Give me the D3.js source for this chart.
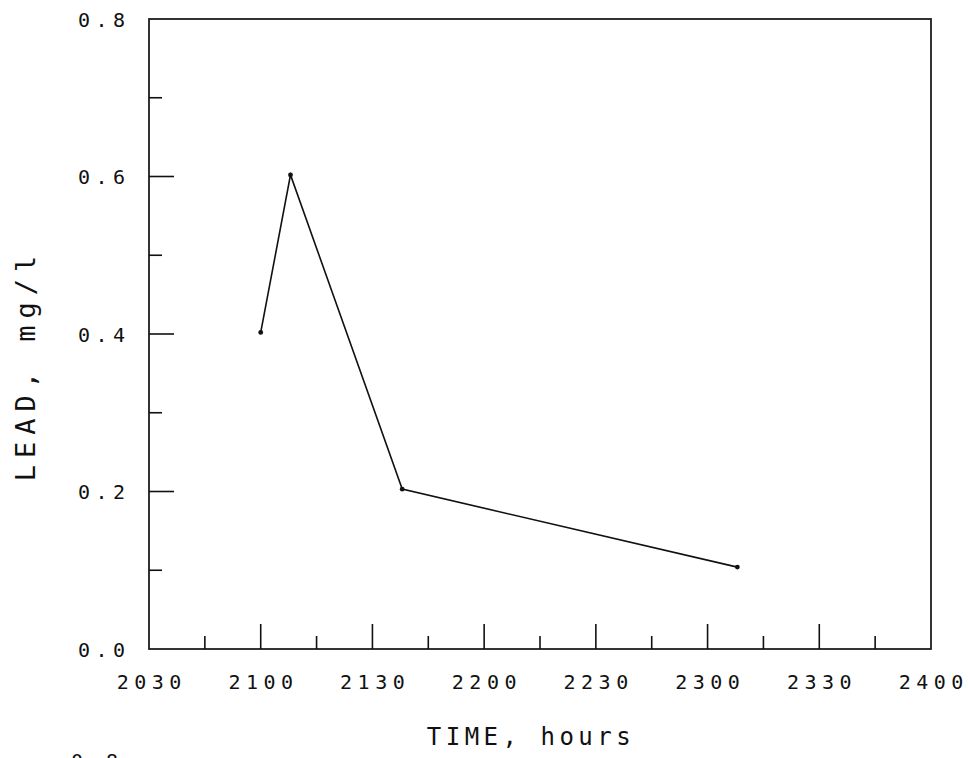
<!DOCTYPE html>
<html>
<head>
<meta charset="utf-8">
<script src="https://cdn.jsdelivr.net/npm/d3@7"></script>
<style>
  html, body { margin: 0; padding: 0; background: #fff; }
  svg { display: block; }
  text { font-family: "DejaVu Sans Mono", "Liberation Mono", monospace; fill: #111; }
</style>
</head>
<body>
<svg id="chart" width="970" height="758"></svg>
<script>
// ---- data ----
const times = ["2100", "2108", "2138", "2308"];        // clock time, HHMM
const lead = [0.402, 0.602, 0.203, 0.104];            // LEAD, mg/l
const xTickLabels = ["2030", "2100", "2130", "2200", "2230", "2300", "2330", "2400"];
const yTickLabels = ["0.0", "0.2", "0.4", "0.6", "0.8"];
const xTitle = "TIME, hours";
const yTitle = "LEAD, mg/l";

// ---- helpers ----
const toMin = s => +s.slice(0, 2) * 60 + +s.slice(2);
const points = times.map((t, i) => ({ x: toMin(t), y: lead[i] }));

const svg = d3.select("#chart");
const L = 149, R = 931, T = 19, B = 649;

const x = d3.scaleLinear().domain([toMin("2030"), toMin("2400")]).range([L, R]);
const y = d3.scaleLinear().domain([0, 0.8]).range([B, T]);

// frame
svg.append("rect")
  .attr("x", L).attr("y", T).attr("width", R - L).attr("height", B - T)
  .attr("fill", "none").attr("stroke", "#111").attr("stroke-width", 1.7);

// x ticks (inward, every 15 minutes; major every 30)
const xMajor = xTickLabels.map(toMin);
const xMinor = d3.range(toMin("2030") + 15, toMin("2400"), 30);
const xAxisG = svg.append("g");
xAxisG.selectAll("line.maj").data(xMajor.slice(1, -1)).join("line")
  .attr("x1", d => x(d)).attr("x2", d => x(d))
  .attr("y1", B).attr("y2", B - 25)
  .attr("stroke", "#111").attr("stroke-width", 1.6);
xAxisG.selectAll("line.min").data(xMinor).join("line")
  .attr("x1", d => x(d)).attr("x2", d => x(d))
  .attr("y1", B).attr("y2", B - 13)
  .attr("stroke", "#111").attr("stroke-width", 1.6);
const LS = 5.5;
const FS = 20;
xAxisG.selectAll("text").data(xTickLabels).join("text")
  .attr("x", d => x(toMin(d)) + LS / 2)
  .attr("y", B + 40)
  .attr("text-anchor", "middle")
  .attr("font-size", FS)
  .attr("letter-spacing", LS)
  .text(d => d);

// y ticks (inward, every 0.1; major every 0.2)
const yVals = yTickLabels.map(Number);
const yMinor = d3.range(1, 8, 2).map(v => v / 10);
const yAxisG = svg.append("g");
yAxisG.selectAll("line.maj").data(yVals.slice(1, -1)).join("line")
  .attr("x1", L).attr("x2", L + 25)
  .attr("y1", d => y(d)).attr("y2", d => y(d))
  .attr("stroke", "#111").attr("stroke-width", 1.6);
yAxisG.selectAll("line.min").data(yMinor).join("line")
  .attr("x1", L).attr("x2", L + 13)
  .attr("y1", d => y(d)).attr("y2", d => y(d))
  .attr("stroke", "#111").attr("stroke-width", 1.6);
yAxisG.selectAll("text").data(yTickLabels).join("text")
  .attr("x", 125 + LS)
  .attr("y", d => y(+d) + 7.5)
  .attr("text-anchor", "end")
  .attr("font-size", FS)
  .attr("letter-spacing", LS)
  .text(d => d);

// data line
const line = d3.line().x(d => x(d.x)).y(d => y(d.y));
svg.append("path").datum(points)
  .attr("d", line)
  .attr("fill", "none").attr("stroke", "#111").attr("stroke-width", 1.6);
svg.selectAll("circle.pt").data(points).join("circle")
  .attr("cx", d => x(d.x)).attr("cy", d => y(d.y)).attr("r", 2.4)
  .attr("fill", "#111");

// axis titles
svg.append("text")
  .attr("x", 529 + 2).attr("y", 745)
  .attr("text-anchor", "middle")
  .attr("font-size", 24)
  .attr("letter-spacing", 4.5)
  .text(xTitle);
svg.append("text")
  .attr("transform", "translate(35,365) rotate(-90)")
  .attr("text-anchor", "middle")
  .attr("font-size", 27)
  .attr("letter-spacing", 7)
  .text(yTitle);

// cut-off label of the next figure on the page (bottom edge, as in the scan)
svg.append("text")
  .attr("x", 118 + LS).attr("y", 768)
  .attr("text-anchor", "end")
  .attr("font-size", FS)
  .attr("letter-spacing", LS)
  .text("0.8");
</script>
</body>
</html>
